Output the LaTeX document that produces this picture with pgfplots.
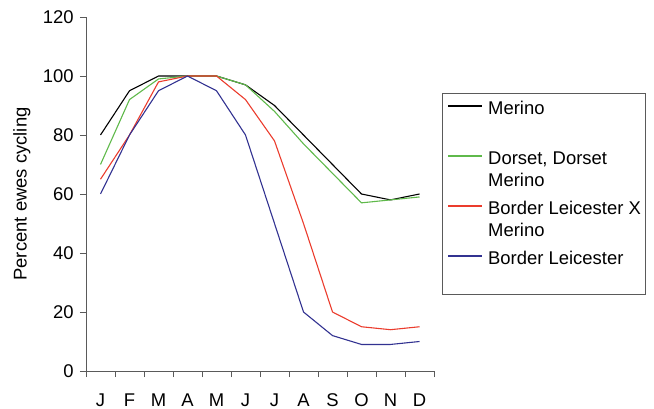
\documentclass[border=0pt]{standalone}
\usepackage{pgfplots}
\pgfplotsset{compat=1.18}
\usepackage{fontspec}
\setmainfont{Liberation Sans}

\definecolor{axisgray}{RGB}{90,90,90}
\definecolor{dorset}{RGB}{95,185,75}
\definecolor{blxm}{RGB}{235,60,45}
\definecolor{bl}{RGB}{50,50,145}

\begin{document}
\fontsize{18.5}{22}\selectfont
\begin{tikzpicture}
\useasboundingbox (-86bp,-38bp) rectangle (568bp,371bp);
\begin{axis}[
    at={(0,0)}, anchor=south west,
    scale only axis,
    width=348bp, height=354bp,
    xmin=-0.5, xmax=11.5,
    ymin=0, ymax=120,
    axis x line=bottom, axis y line=left,
    axis line style={-, draw=axisgray, line width=0.8bp},
    xtick={-0.5,0.5,1.5,2.5,3.5,4.5,5.5,6.5,7.5,8.5,9.5,10.5,11.5},
    xticklabels={J,F,M,A,M,J,J,A,S,O,N,D,{}},
    xticklabel style={xshift=14.5bp, yshift=-10bp},
    ytick={0,20,...,120},
    tick align=outside,
    major tick length=6bp,
    tick style={draw=axisgray, line width=0.8bp},
    /pgf/number format/assume math mode=true,
    ylabel={Percent ewes cycling},
    ylabel style={at={(axis description cs:-0.184,0.5)}, anchor=center},
    legend cell align=left,
    legend style={
        at={(axis description cs:1.023,0.784)}, anchor=north west,
        draw=axisgray, line width=0.8bp,
        inner xsep=5bp, inner ysep=5bp,
        row sep=10bp, column sep=5bp,
        cells={align=left},
        nodes={inner sep=0pt},
    },
    legend image code/.code={\draw[#1, line width=1.8bp] (0bp,13.2bp) -- (34bp,13.2bp);},
    every axis plot/.append style={line width=1.1bp},
]

\addplot[color=black] coordinates {
    (0,80)(1,95)(2,100)(3,100)(4,100)(5,97)(6,90)(7,80)(8,70)(9,60)(10,58)(11,60)
};
\addlegendentry{\strut Merino\\\strut}

\addplot[color=dorset] coordinates {
    (0,70)(1,92)(2,99)(3,100)(4,100)(5,97)(6,88)(7,77)(8,67)(9,57)(10,58)(11,59)
};
\addlegendentry{\strut Dorset, Dorset\\\strut Merino}

\addplot[color=blxm] coordinates {
    (0,65)(1,80)(2,98)(3,100)(4,100)(5,92)(6,78)(7,50)(8,20)(9,15)(10,14)(11,15)
};
\addlegendentry{\strut Border Leicester X\\\strut Merino}

\addplot[color=bl] coordinates {
    (0,60)(1,80)(2,95)(3,100)(4,95)(5,80)(6,50)(7,20)(8,12)(9,9)(10,9)(11,10)
};
\addlegendentry{\strut Border Leicester\\\strut}

\end{axis}
\end{tikzpicture}
\end{document}
